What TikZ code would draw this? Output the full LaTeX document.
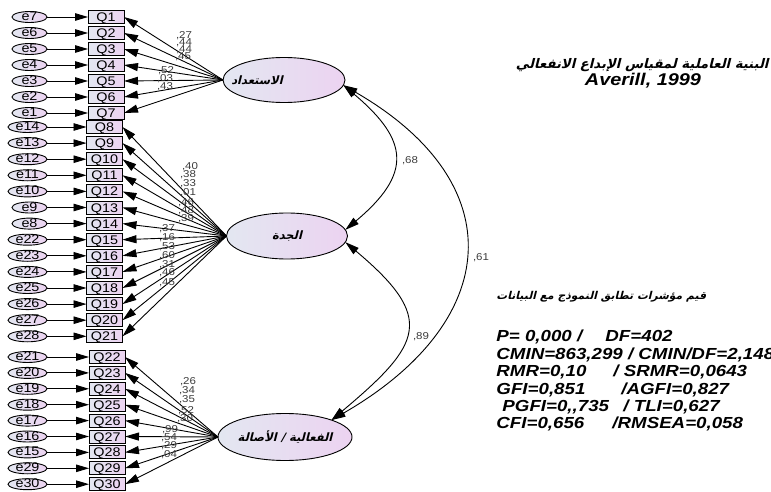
\documentclass[tikz,border=0pt]{standalone}
\usepackage{fontspec}
\setmainfont{Liberation Sans}[FakeStretch=1.15]
\newfontfamily\statfont{Liberation Sans}[FakeStretch=1.17]
\newfontfamily\arabicfont{DejaVu Sans}[Script=Arabic,FakeSlant=0.25]
\usetikzlibrary{arrows.meta,shapes.geometric}
\TeXXeTstate=1
\definecolor{shl}{HTML}{E3E7F1}
\definecolor{shr}{HTML}{ECD3F1}
\definecolor{lblgray}{HTML}{3C3C3C}
\begin{document}
\begin{tikzpicture}[x=1pt,y=1pt,line width=0.9pt,
  errnode/.style={ellipse,draw,inner sep=0pt,outer sep=0pt,minimum height=11pt,
    left color=shl,right color=shr,text height=7pt,text depth=-2pt,
    font=\fontsize{12.5}{13}\selectfont},
  qbox/.style={rectangle,draw,inner sep=0pt,outer sep=0pt,minimum width=36pt,minimum height=13pt,
    left color=shl,right color=shr,text height=9pt,text depth=0pt,
    font=\fontsize{12.5}{13}\selectfont},
  latent/.style={ellipse,draw,inner sep=0pt,outer sep=0pt,
    left color=shl,right color=shr,
    font=\arabicfont\bfseries\fontsize{11.5}{13}\selectfont},
  earrow/.style={-{Triangle[length=13pt,width=7.5pt]}},
  loadarrow/.style={-{Triangle[length=14pt,width=8pt]}},
  covarrow/.style={{Triangle[length=14pt,width=8pt]}-{Triangle[length=14pt,width=8pt]}},
  lbl/.style={inner sep=0pt,text=lblgray,font=\fontsize{10}{11}\selectfont},
  stat/.style={inner sep=0pt,anchor=west,text height=11.7pt,text depth=0pt,
    font=\statfont\bfseries\itshape\fontsize{16}{18}\selectfont},
]
\useasboundingbox (0,0) rectangle (771,-492);

% latent factors
\node[latent,minimum width=122pt,minimum height=45pt] (F1) at (284,-80) {\kern-27pt الاستعداد\kern27pt};
\node[latent,minimum width=121pt,minimum height=46pt] (F2) at (287,-236) {\beginR الجدة\endR};
\node[latent,minimum width=124pt,minimum height=47pt] (F3) at (285,-437) {\beginR الفعالية / الأصالة\endR};

% group 1
\foreach \e/\q/\y/\w in {e7/1/17/35,e6/2/33/35,e5/3/49/35,e4/4/65/35,e3/5/81/35,e2/6/97/35,e1/7/113/35}{
  \node[errnode,minimum width=\w pt,anchor=east] (\e) at (47,-\y) {\e};
  \node[qbox] (Q\q) at (106,-\y) {Q\q};
  \draw[earrow] (\e) -- (Q\q);
  \draw[loadarrow] (F1.west) -- (Q\q.east);
}
% group 2
\foreach \e/\q/\y/\w in {e14/8/127/39,e13/9/143.1/39,e12/10/159.2/39,e11/11/175.3/39,e10/12/191.4/39,
  e9/13/207.5/35,e8/14/223.6/35,e22/15/239.7/39,e23/16/255.8/39,e24/17/271.9/39,e25/18/288/39,
  e26/19/304.1/39,e27/20/320.2/39,e28/21/336.3/39}{
  \node[errnode,minimum width=\w pt,anchor=east] (\e) at (47,-\y) {\e};
  \node[qbox] (Q\q) at (104.5,-\y) {Q\q};
  \draw[earrow] (\e) -- (Q\q);
  \draw[loadarrow] (F2.west) -- (Q\q.east);
}
% group 3
\foreach \e/\q/\y/\w in {e21/22/357/39,e20/23/372.9/39,e19/24/388.8/39,e18/25/404.7/39,e17/26/420.6/39,
  e16/27/436.5/39,e15/28/452.4/39,e29/29/468.3/39,e30/30/484.2/39}{
  \node[errnode,minimum width=\w pt,anchor=east] (\e) at (47,-\y) {\e};
  \node[qbox] (Q\q) at (107,-\y) {Q\q};
  \draw[earrow] (\e) -- (Q\q);
  \draw[loadarrow] (F3.west) -- (Q\q.east);
}

% loading labels
\foreach \t/\x/\y [count=\i] in {27/184/36,44/184/43,44/184/50,45/183/57,52/166/71,03/165/79,43/165/87,
  40/190/167,38/188/175,33/188/184,01/188/193,46/186/203,48/186/211,39/186/219,
  37/167/229,16/167/238,53/167/247,60/167/256,31/167/265,46/167/273,45/167/283,
  26/188/382,34/187/391,35/187/400,52/186/411,30/185/419,99/170/430,54/169/438,29/169/446,04/169/455}{
  \node[lbl] (ld\i) at (\x,-\y) {,\t};
}

% covariances
\draw[covarrow] (F1.-5) to[out=-40,in=40,looseness=1.53] (F2.6);
\draw[covarrow] (F2.-6) to[out=-40,in=40,looseness=1.7] (F3.20);
\draw[covarrow] (F1.-5) to[out=-30,in=30,looseness=1.5] (F3.20);
\node[lbl] (c68) at (410,-161) {,68};
\node[lbl] (c89) at (421,-337) {,89};
\node[lbl] (c61) at (481,-258) {,61};

% titles
\node[anchor=east,inner sep=0pt,font=\arabicfont\bfseries\fontsize{13.2}{15}\selectfont] (title) at (769,-65)
  {\beginR البنية العاملية لمقياس الإبداع الانفعالي\endR};
\node[inner sep=0pt,font=\statfont\bfseries\itshape\fontsize{17}{19}\selectfont] (auth) at (643,-81) {Averill, 1999};
\node[anchor=west,inner sep=0pt,font=\arabicfont\bfseries\fontsize{10.8}{13}\selectfont] (fith) at (496,-297)
  {\beginR قيم مؤشرات تطابق النموذج مع البيانات\endR};

% fit statistics
\node[stat] (s1a) at (496,-336) {P= 0,000 /};
\node[stat] (s1b) at (605,-336) {DF=402};
\node[stat] (s2) at (496,-353.4) {CMIN=863,299 / CMIN/DF=2,148};
\node[stat] (s3a) at (496,-370.8) {RMR=0,10};
\node[stat] (s3b) at (613,-370.8) {/ SRMR=0,0643};
\node[stat] (s4a) at (496,-388.2) {GFI=0,851};
\node[stat] (s4b) at (621,-388.2) {/AGFI=0,827};
\node[stat] (s5a) at (502,-405.6) {PGFI=0,,735};
\node[stat] (s5b) at (623,-405.6) {/ TLI=0,627};
\node[stat] (s6a) at (496,-423) {CFI=0,656};
\node[stat] (s6b) at (612,-423) {/RMSEA=0,058};
\end{tikzpicture}
\end{document}
